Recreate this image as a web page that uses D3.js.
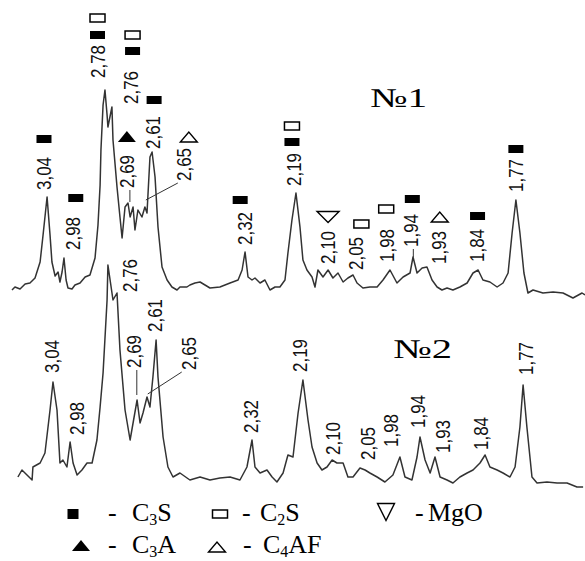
<!DOCTYPE html>
<html>
<head>
<meta charset="utf-8">
<script src="https://cdn.jsdelivr.net/npm/d3@7"></script>
<style>
  html, body { margin: 0; padding: 0; background: #fff; }
  svg { display: block; }
</style>
</head>
<body>
<svg id="chart" width="585" height="561"></svg>
<script>
// Cu K-alpha wavelength (angstrom), used to place d-spacings on the 2-theta axis
var lambda = 1.5406;

// labelled reflections, d in angstrom
var peaksD1 = [3.04, 2.98, 2.78, 2.76, 2.69, 2.65, 2.61, 2.32, 2.19, 2.10, 2.05, 1.98, 1.94, 1.93, 1.84, 1.77];
var peaksD2 = [3.04, 2.98, 2.76, 2.69, 2.65, 2.61, 2.32, 2.19, 2.10, 2.05, 1.98, 1.94, 1.93, 1.84, 1.77];

// phases assigned to each reflection of sample 1 (bottom to top)
var phases1 = [["C3S"], ["C3S"], ["C3S", "C2S"], ["C3S", "C2S"], ["C3A"], ["C4AF"], ["C3S"], ["C3S"],
  ["C3S", "C2S"], ["MgO"], ["C2S"], ["C2S"], ["C3S"], ["C4AF"], ["C3S"], ["C3S"]];

// diffractogram of sample 1: [2theta, intensity]
var trace1 = [
  [27.70, 10], [27.84, 13], [28.08, 11], [28.32, 16], [28.55, 17], [28.79, 22], [29.03, 38], [29.17, 65],
  [29.36, 103], [29.50, 65], [29.59, 38], [29.74, 24], [29.88, 28], [29.97, 18], [30.07, 28], [30.16, 42],
  [30.26, 20], [30.35, 12], [30.54, 11], [30.68, 15], [30.92, 17], [31.16, 23], [31.39, 25], [31.63, 42],
  [31.77, 75], [31.87, 115], [31.91, 150], [32.01, 195], [32.10, 210], [32.20, 185], [32.24, 173],
  [32.43, 193], [32.48, 160], [32.67, 113], [32.81, 83], [32.91, 62], [33.05, 93], [33.19, 97], [33.29, 83],
  [33.43, 93], [33.52, 70], [33.66, 90], [33.85, 83], [33.99, 93], [34.09, 87], [34.23, 143], [34.33, 148],
  [34.47, 123], [34.61, 73], [34.80, 33], [35.04, 20], [35.27, 13], [35.51, 10], [35.65, 13], [35.98, 13],
  [36.12, 15], [36.36, 17], [36.60, 18], [37.07, 12], [37.54, 13], [38.02, 17], [38.40, 20], [38.59, 30],
  [38.73, 48], [38.87, 23], [39.06, 20], [39.20, 22], [39.44, 17], [39.67, 20], [39.91, 10], [40.15, 13],
  [40.38, 13], [40.62, 20], [40.76, 47], [40.95, 80], [41.14, 107], [41.33, 73], [41.47, 40], [41.66, 30],
  [41.90, 23], [42.04, 13], [42.18, 30], [42.42, 23], [42.66, 30], [42.89, 22], [43.13, 27], [43.37, 18],
  [43.60, 22], [43.84, 25], [44.03, 17], [44.31, 12], [44.64, 13], [44.98, 13], [45.26, 20], [45.59, 30],
  [45.92, 17], [46.21, 23], [46.54, 27], [46.68, 43], [46.87, 27], [47.11, 32], [47.34, 33], [47.58, 20],
  [47.82, 13], [48.05, 10], [48.29, 12], [48.57, 10], [48.90, 13], [49.24, 17], [49.52, 27], [49.76, 30],
  [49.99, 20], [50.32, 18], [50.66, 13], [50.94, 17], [51.18, 27], [51.37, 67], [51.55, 100], [51.74, 67],
  [51.93, 27], [52.12, 7], [52.36, 10], [52.83, 7], [53.31, 8], [53.78, 7], [54.25, 2], [54.68, 7], [54.82, 5]
];

// diffractogram of sample 2: [2theta, intensity]
var trace2 = [
  [27.98, 13], [28.17, 20], [28.41, 15], [28.65, 10], [28.69, 23], [29.03, 27], [29.26, 37], [29.50, 80],
  [29.64, 108], [29.83, 80], [29.97, 27], [30.11, 30], [30.30, 23], [30.45, 48], [30.59, 27], [30.78, 15],
  [31.01, 20], [31.25, 27], [31.49, 27], [31.72, 50], [31.87, 83], [32.01, 117], [32.20, 190], [32.24, 225],
  [32.48, 190], [32.67, 197], [32.81, 140], [33.05, 80], [33.29, 50], [33.43, 67], [33.62, 90], [33.76, 67],
  [33.90, 77], [34.09, 93], [34.23, 83], [34.37, 113], [34.52, 150], [34.61, 113], [34.85, 53], [35.08, 23],
  [35.32, 13], [35.65, 17], [36.12, 10], [36.60, 13], [37.07, 10], [37.54, 12], [38.02, 13], [38.49, 10],
  [38.82, 23], [39.06, 50], [39.20, 23], [39.44, 17], [39.77, 20], [40.01, 13], [40.24, 8], [40.53, 17],
  [40.76, 35], [41.00, 33], [41.24, 77], [41.47, 110], [41.71, 70], [41.90, 43], [42.14, 27], [42.37, 20],
  [42.61, 23], [42.85, 30], [43.08, 27], [43.37, 27], [43.60, 13], [43.84, 13], [44.17, 22], [44.41, 20],
  [44.64, 17], [44.98, 13], [45.35, 8], [45.73, 15], [46.06, 33], [46.30, 13], [46.63, 10], [46.87, 33],
  [47.01, 53], [47.25, 30], [47.49, 17], [47.72, 33], [47.96, 13], [48.29, 10], [48.57, 7], [48.90, 13],
  [49.24, 17], [49.52, 20], [49.85, 27], [50.09, 35], [50.32, 23], [50.66, 20], [50.94, 17], [51.27, 13],
  [51.51, 23], [51.74, 63], [51.89, 105], [52.07, 63], [52.31, 13], [52.55, 7], [53.02, 8], [53.50, 7],
  [53.97, 7], [54.44, 3], [54.73, 3]
];
// sample 2 is recorded slightly displaced in 2theta
var shift2 = 0.28;

var sampleNames = ["№1", "№2"];
var legendRow1 = ["C3S", "C2S", "MgO"];
var legendRow2 = ["C3A", "C4AF"];

// ---- layout of annotations (pixels) ----
var labelDx1 = [-3, 13, -9, 19, -3, 43, 1, -1, -3, -8, -4, -7, -5, 18, 4, -1];
var labelBottom1 = [190, 250, 78, 104, 188, 181, 149, 245, 186, 264, 270, 262, 247, 264, 262, 192];
var markerDx1 = [0, 3, 0, 2, 0, 5, 1, -5, -2, 0, 6, -1, 2, 1, 1, 0];
var markerY1 = [[139], [198], [35, 18], [51, 35], [137], [137], [100], [200], [142, 126], [217], [224], [209], [199], [217], [216], [149]];
var labelDx2 = [-1, 11, 12, -2, 42, -3, -1, -3, -9, 2, -9, -3, 16, 2, 3];
var labelBottom2 = [373, 435, 292, 368, 370, 332, 433, 372, 455, 460, 447, 428, 453, 450, 375];
// leader lines: [d, start dx from label, end dx from peak, end intensity]
var leaders1 = [[2.69, 3, 0, 98], [2.65, -6, 5, 100], [1.94, 3, -2, 43]];
var leaders2 = [[2.69, 3, 1, 95], [2.65, -7, 1, 96]];

function twoTheta(d) {
  return 2 * Math.asin(lambda / (2 * d)) * 180 / Math.PI;
}
function fmt(d) {
  return d3.format(".2f")(d).replace(".", ",");
}

var svg = d3.select("#chart");
var x = d3.scaleLinear().domain([27.7, 54.82]).range([12, 585]);
var y1 = d3.scaleLinear().domain([0, 210]).range([300, 90]);
var y2 = d3.scaleLinear().domain([0, 210]).range([490, 280]);

var line1 = d3.line().x(function(d) { return x(d[0]); }).y(function(d) { return y1(d[1]); });
var line2 = d3.line().x(function(d) { return x(d[0]); }).y(function(d) { return y2(d[1]); });

svg.append("path").datum(trace1).attr("d", line1)
  .attr("fill", "none").attr("stroke", "#333").attr("stroke-width", 1.5).attr("stroke-linejoin", "round");
svg.append("path").datum(trace2).attr("d", line2)
  .attr("fill", "none").attr("stroke", "#333").attr("stroke-width", 1.5).attr("stroke-linejoin", "round");

function drawLabels(ds, dxs, bottoms, shift) {
  svg.append("g").selectAll("text").data(ds).enter().append("text")
    .attr("transform", function(d, i) {
      return "translate(" + (x(twoTheta(d) + shift) + dxs[i]) + "," + bottoms[i] + ") rotate(-90)";
    })
    .attr("dy", "0.36em")
    .attr("textLength", 33)
    .attr("lengthAdjust", "spacingAndGlyphs")
    .style("font-family", "'Liberation Sans', Arial, sans-serif")
    .style("font-size", "20px")
    .style("fill", "#111")
    .text(function(d) { return fmt(d); });
}
drawLabels(peaksD1, labelDx1, labelBottom1, 0);
drawLabels(peaksD2, labelDx2, labelBottom2, shift2);

function drawLeaders(list, ds, dxs, bottoms, yScale, shift) {
  svg.append("g").selectAll("line").data(list).enter().append("line")
    .attr("x1", function(l) { var i = ds.indexOf(l[0]); return x(twoTheta(l[0]) + shift) + dxs[i] + l[1]; })
    .attr("y1", function(l) { var i = ds.indexOf(l[0]); return bottoms[i] + 2; })
    .attr("x2", function(l) { return x(twoTheta(l[0]) + shift) + l[2]; })
    .attr("y2", function(l) { return yScale(l[3]); })
    .attr("stroke", "#333").attr("stroke-width", 1);
}
drawLeaders(leaders1, peaksD1, labelDx1, labelBottom1, y1, 0);
drawLeaders(leaders2, peaksD2, labelDx2, labelBottom2, y2, shift2);

// phase symbols
function symbol(g, phase, cx, cy, big) {
  if (phase === "C3S") {
    var w = big ? 11 : 15, h = big ? 10 : 8;
    g.append("rect").attr("x", cx - w / 2).attr("y", cy - h / 2).attr("width", w).attr("height", h).attr("fill", "#000");
  } else if (phase === "C2S") {
    g.append("rect").attr("x", cx - 7.5).attr("y", cy - 4).attr("width", 15).attr("height", 8)
      .attr("fill", "#fff").attr("stroke", "#000").attr("stroke-width", 1.5);
  } else if (phase === "C3A") {
    g.append("path").attr("d", "M" + (cx - 9) + "," + (cy + 5) + "L" + (cx + 9) + "," + (cy + 5) + "L" + cx + "," + (cy - 6) + "Z")
      .attr("fill", "#000");
  } else if (phase === "C4AF") {
    g.append("path").attr("d", "M" + (cx - 8.5) + "," + (cy + 5) + "L" + (cx + 8.5) + "," + (cy + 5) + "L" + cx + "," + (cy - 5) + "Z")
      .attr("fill", "#fff").attr("stroke", "#000").attr("stroke-width", 1.4);
  } else if (phase === "MgO") {
    var hw = big ? 8.5 : 11, hh = big ? 8.5 : 5.5;
    g.append("path").attr("d", "M" + (cx - hw) + "," + (cy - hh) + "L" + (cx + hw) + "," + (cy - hh) + "L" + cx + "," + (cy + hh) + "Z")
      .attr("fill", "#fff").attr("stroke", "#000").attr("stroke-width", 1.4);
  }
}

var marks = svg.append("g");
peaksD1.forEach(function(d, i) {
  var cx = x(twoTheta(d)) + labelDx1[i] + markerDx1[i];
  phases1[i].forEach(function(p, j) {
    symbol(marks, p, cx, markerY1[i][j], false);
  });
});

// sample names
svg.append("text").attr("x", 370).attr("y", 107)
  .attr("textLength", 57).attr("lengthAdjust", "spacingAndGlyphs")
  .style("font-family", "'Liberation Serif', 'Times New Roman', serif").style("font-size", "27px")
  .text(sampleNames[0]);
svg.append("text").attr("x", 393).attr("y", 358)
  .attr("textLength", 59).attr("lengthAdjust", "spacingAndGlyphs")
  .style("font-family", "'Liberation Serif', 'Times New Roman', serif").style("font-size", "27px")
  .text(sampleNames[1]);

// legend
var legend = svg.append("g").style("font-family", "'Liberation Serif', 'Times New Roman', serif").style("font-size", "26px");
function legendText(name, tx, ty) {
  var m = name.match(/^C(\d)(.*)$/);
  var t = legend.append("text").attr("x", tx).attr("y", ty);
  if (m) {
    t.append("tspan").text("C");
    t.append("tspan").attr("dy", 4).style("font-size", "16px").text(m[1]);
    t.append("tspan").attr("dy", -4).text(m[2]);
  } else {
    t.text(name);
  }
}
var row1 = [[73, 514, 108, 132], [220, 514, 242, 260], [386, 512, 415, 428]];
legendRow1.forEach(function(name, i) {
  var p = row1[i];
  symbol(legend, name, p[0], p[1], true);
  legend.append("text").attr("x", p[2]).attr("y", 521).text("-");
  legendText(name, p[3], 521);
});
var row2 = [[81, 546, 108, 132], [217, 547, 243, 263]];
legendRow2.forEach(function(name, i) {
  var p = row2[i];
  symbol(legend, name, p[0], p[1], true);
  legend.append("text").attr("x", p[2]).attr("y", 553).text("-");
  legendText(name, p[3], 553);
});
</script>
</body>
</html>
